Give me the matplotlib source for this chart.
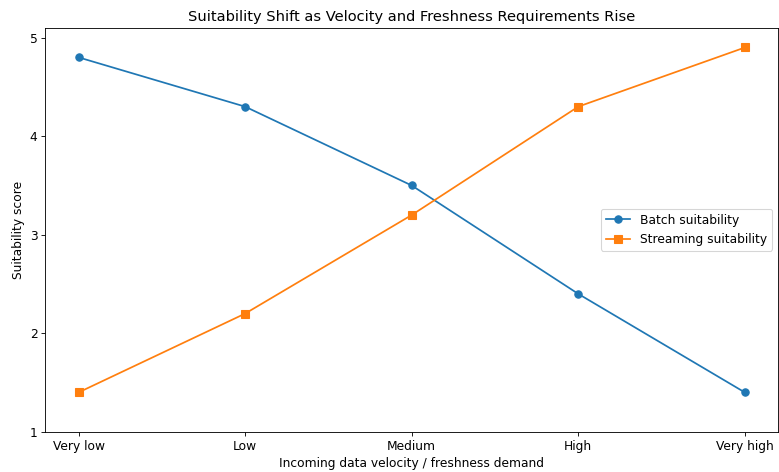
import matplotlib.pyplot as plt

levels = ["Very low", "Low", "Medium", "High", "Very high"]
batch_scores = [4.8, 4.3, 3.5, 2.4, 1.4]
streaming_scores = [1.4, 2.2, 3.2, 4.3, 4.9]

plt.rcParams["font.size"] = 11.3

fig, ax = plt.subplots(figsize=(10, 6.06), dpi=77.9)
x = range(len(levels))
ax.plot(x, batch_scores, marker="o", markersize=6.8, linewidth=1.6, label="Batch suitability")
ax.plot(x, streaming_scores, marker="s", markersize=6.8, linewidth=1.6, label="Streaming suitability")

ax.set_xticks(list(x))
ax.set_xticklabels(levels)
ax.set_ylim(1, 5.1)
ax.set_yticks([1, 2, 3, 4, 5])
ax.set_title("Suitability Shift as Velocity and Freshness Requirements Rise")
ax.set_xlabel("Incoming data velocity / freshness demand")
ax.set_ylabel("Suitability score")
ax.legend(loc="center right")

plt.subplots_adjust(left=0.058, right=0.999, top=0.941, bottom=0.085)
plt.savefig("out.png")
